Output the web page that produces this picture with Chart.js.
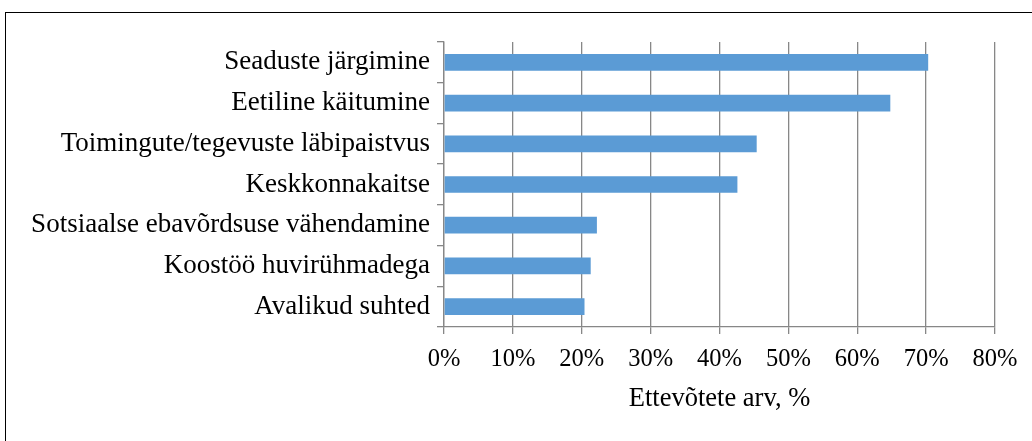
<!DOCTYPE html>
<html>
<head>
<meta charset="utf-8">
<script src="https://cdn.jsdelivr.net/npm/chart.js@4"></script>
<style>
    html, body { margin: 0; padding: 0; background: #fff; }
    #frame { position: absolute; left: 5px; top: 12px; width: 1040px; height: 440px; border: 1px solid #000; box-sizing: border-box; }
    #wrap { position: absolute; left: 0; top: 0; width: 1032px; height: 441px; }
</style>
</head>
<body>
<div id="frame"></div>
<div id="wrap"><canvas id="chart"></canvas></div>
<script>
// kategooriad ja väärtused (% ettevõtetest)
const categories = [
    'Seaduste järgimine',
    'Eetiline käitumine',
    'Toimingute/tegevuste läbipaistvus',
    'Keskkonnakaitse',
    'Sotsiaalse ebavõrdsuse vähendamine',
    'Koostöö huvirühmadega',
    'Avalikud suhted',
];
const shares = [70.3, 64.8, 45.4, 42.6, 22.2, 21.3, 20.4];
const xTicks = [0, 10, 20, 30, 40, 50, 60, 70, 80];
const axisTitle = 'Ettevõtete arv, %';

const serif = '"Liberation Serif", "Times New Roman", serif';

new Chart(document.getElementById('chart'), {
    type: 'bar',
    data: {
        labels: categories,
        datasets: [{
            data: shares,
            backgroundColor: '#5B9BD5',
            borderWidth: 0,
            barPercentage: 0.41,
            categoryPercentage: 1,
        }],
    },
    options: {
        indexAxis: 'y',
        responsive: true,
        maintainAspectRatio: false,
        animation: false,
        layout: { padding: { left: 0, right: 37, top: 42, bottom: 26 } },
        plugins: { legend: { display: false }, tooltip: { enabled: false } },
        scales: {
            x: {
                min: 0,
                max: 80,
                afterBuildTicks: (s) => { s.ticks = xTicks.map(v => ({ value: v })); },
                afterFit: (s) => { s.height = 88; },
                ticks: { font: { family: serif, size: 24.5 }, color: '#000', padding: 11, callback: (v) => v + '%' },
                grid: { color: '#878787', lineWidth: 1.3, tickLength: 7 },
                border: { color: '#878787', width: 1.3 },
                title: { display: true, text: axisTitle, font: { family: serif, size: 26.5 }, color: '#000', padding: { top: 0, bottom: 0 } },
            },
            y: {
                afterFit: (s) => { s.width = 444; },
                ticks: { font: { family: serif, size: 27 }, color: '#000', padding: 7 },
                grid: { display: true, drawOnChartArea: false, offset: true, color: '#878787', lineWidth: 1.3, tickLength: 7 },
                border: { color: '#878787', width: 1.3 },
            },
        },
    },
});
</script>
</body>
</html>
